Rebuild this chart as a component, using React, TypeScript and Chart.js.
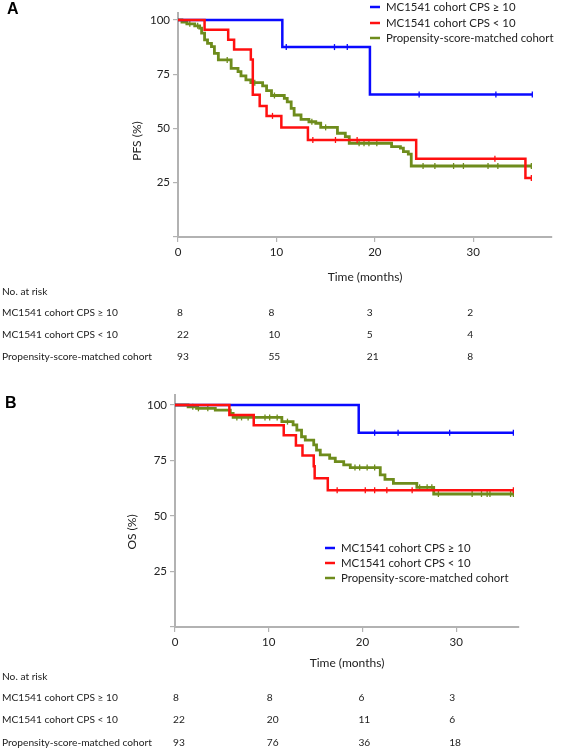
import React, { useEffect, useRef } from "react";
import { Chart, registerables } from "chart.js";

Chart.register(...registerables);

// ---------- shared labels ----------
const GROUP_LABELS = [
  "MC1541 cohort CPS \u2265 10",
  "MC1541 cohort CPS < 10",
  "Propensity-score-matched cohort",
];
const X_TICKS = [0, 10, 20, 30];
const Y_TICKS = [0, 25, 50, 75, 100];
const RISK_TIMES = [0, 10, 20, 30];
const X_TITLE = "Time (months)";
const RISK_TITLE = "No. at risk";

// ---------- Panel A : PFS ----------
const PFS_HIGH_T = [0, 10.6, 19.5, 36.0];
const PFS_HIGH_S = [100, 87.5, 65.6, 65.6];
const PFS_HIGH_CENS = [11.0, 15.9, 17.2, 24.5, 32.3, 36.0];

const PFS_LOW_T = [0, 2.7, 5.1, 5.7, 7.4, 7.6, 8.3, 9.0, 10.5, 13.2, 24.2, 35.3, 35.9];
const PFS_LOW_S = [100, 95.5, 90.9, 86.4, 81.8, 65.5, 60.3, 55.8, 50.5, 44.7, 36.0, 27.2, 27.2];
const PFS_LOW_CENS = [9.6, 13.7, 16.0, 18.2, 32.2, 35.9];

const PFS_PSM_T = [0, 0.4, 0.9, 1.7, 2.2, 2.4, 2.7, 3.0, 3.4, 3.7, 4.1, 5.4, 6.1, 6.4, 6.9, 7.4, 8.6, 9.0, 9.5, 10.8, 11.1, 11.5, 11.8, 12.5, 13.3, 14.0, 14.5, 16.2, 17.0, 17.4, 21.7, 22.6, 22.9, 23.4, 23.7, 35.9];
const PFS_PSM_S = [100, 99.0, 98.2, 97.3, 96.2, 93.9, 90.8, 89.2, 87.7, 84.6, 81.6, 77.7, 76.2, 74.2, 72.4, 71.1, 69.6, 67.4, 65.2, 63.9, 62.3, 59.3, 56.2, 54.2, 53.1, 52.4, 50.5, 47.8, 46.2, 43.2, 41.6, 40.9, 39.3, 38.2, 32.7, 32.7];
const PFS_PSM_CENS = [1.2, 2.0, 5.0, 7.8, 9.8, 13.6, 15.0, 18.4, 18.9, 19.4, 20.2, 24.9, 26.1, 28.0, 29.0, 31.5, 32.5, 35.9];

const PFS_RISK_HIGH = [8, 8, 3, 2];
const PFS_RISK_LOW = [22, 10, 5, 4];
const PFS_RISK_PSM = [93, 55, 21, 8];

// ---------- Panel B : OS ----------
const OS_HIGH_T = [0, 19.6, 36.1];
const OS_HIGH_S = [100, 87.5, 87.5];
const OS_HIGH_CENS = [21.3, 23.8, 29.3, 36.1];

const OS_LOW_T = [0, 5.8, 8.4, 11.6, 12.9, 13.6, 14.8, 14.9, 16.3, 36.1];
const OS_LOW_S = [100, 95.5, 90.9, 86.4, 81.8, 77.3, 72.4, 67.0, 61.6, 61.6];
const OS_LOW_CENS = [17.3, 20.3, 21.3, 22.6, 25.3, 36.1];

const OS_PSM_T = [0, 1.4, 2.3, 4.3, 5.9, 6.2, 11.4, 12.6, 13.0, 13.5, 13.9, 14.8, 15.1, 15.5, 16.5, 17.1, 18.0, 18.7, 21.9, 22.4, 23.3, 25.8, 27.6, 36.1];
const OS_PSM_S = [100, 99.2, 98.5, 97.7, 96.2, 94.4, 92.5, 91.0, 88.7, 85.7, 84.2, 82.0, 79.7, 77.5, 76.0, 74.5, 73.0, 71.8, 68.5, 66.5, 64.7, 62.9, 59.9, 59.9];
const OS_PSM_CENS = [1.9, 2.5, 3.5, 6.6, 7.1, 7.8, 9.6, 10.1, 10.9, 12.0, 19.2, 19.7, 20.5, 21.3, 26.1, 26.9, 27.4, 28.1, 31.7, 32.7, 33.3, 33.6, 35.8, 36.1];

const OS_RISK_HIGH = [8, 8, 6, 3];
const OS_RISK_LOW = [22, 20, 11, 6];
const OS_RISK_PSM = [93, 76, 36, 18];

// ---------- styling ----------
const COLORS = ["#0a0aff", "#ff1010", "#6e8c1c"];
const DRAW_ORDER = [2, 1, 3]; // red on top, then blue, then green
const LINE_WIDTHS = [2.5, 2.5, 2.8];
const AXIS_COLOR = "#b2b2b2";
const TEXT_COLOR = "#222222";
const FONT = "Lato";

type PanelCfg = {
  letter: string;
  yTitle: string;
  curvesT: number[][];
  curvesS: number[][];
  cens: number[][];
  risk: number[][];
  xMax: number;
  yMax: number;
  height: number;
  padLeft: number;
  padRight: number;
  padTop: number;
  xAxisH: number;
  letterPos: [number, number];
  yTitlePos: [number, number];
  xTitleY: number;
  legendX: number;
  legendY: number[];
  riskTitleY: number;
  riskRowsY: number[];
  riskOffsets: number[];
};

const PANELS: PanelCfg[] = [
  {
    letter: "A",
    yTitle: "PFS (%)",
    curvesT: [PFS_HIGH_T, PFS_LOW_T, PFS_PSM_T],
    curvesS: [PFS_HIGH_S, PFS_LOW_S, PFS_PSM_S],
    cens: [PFS_HIGH_CENS, PFS_LOW_CENS, PFS_PSM_CENS],
    risk: [PFS_RISK_HIGH, PFS_RISK_LOW, PFS_RISK_PSM],
    xMax: 38,
    yMax: 103.2,
    height: 375,
    padLeft: 128,
    padRight: 9,
    padTop: 13,
    xAxisH: 138,
    letterPos: [7, 10],
    yTitlePos: [137, 141],
    xTitleY: 277,
    legendX: 370,
    legendY: [7, 23, 38],
    riskTitleY: 292,
    riskRowsY: [313, 335, 357],
    riskOffsets: [-1, -8, -8, -6],
  },
  {
    letter: "B",
    yTitle: "OS (%)",
    curvesT: [OS_HIGH_T, OS_LOW_T, OS_PSM_T],
    curvesS: [OS_HIGH_S, OS_LOW_S, OS_PSM_S],
    cens: [OS_HIGH_CENS, OS_LOW_CENS, OS_PSM_CENS],
    risk: [OS_RISK_HIGH, OS_RISK_LOW, OS_RISK_PSM],
    xMax: 36.7,
    yMax: 104.5,
    height: 375,
    padLeft: 125,
    padRight: 42,
    padTop: 20,
    xAxisH: 123,
    letterPos: [5, 29],
    yTitlePos: [132, 157],
    xTitleY: 288,
    legendX: 325,
    legendY: [173, 188, 203],
    riskTitleY: 302,
    riskRowsY: [323, 345, 368],
    riskOffsets: [-2, -2, -4, -7],
  },
];

function stepValue(ts: number[], ss: number[], t: number): number {
  let v = ss[0];
  for (let i = 0; i < ts.length; i++) {
    if (ts[i] <= t) v = ss[i];
  }
  return v;
}

function Panel({ cfg }: { cfg: PanelCfg }) {
  const ref = useRef<HTMLCanvasElement | null>(null);

  useEffect(() => {
    if (!ref.current) return;
    const datasets: any[] = [];
    cfg.curvesT.forEach((ts, i) => {
      datasets.push({
        type: "line",
        label: GROUP_LABELS[i],
        data: ts.map((t, k) => ({ x: t, y: cfg.curvesS[i][k] })),
        borderColor: COLORS[i],
        borderWidth: LINE_WIDTHS[i],
        stepped: "before",
        pointRadius: 0,
        fill: false,
        order: DRAW_ORDER[i],
      });
    });
    cfg.cens.forEach((cs, i) => {
      datasets.push({
        type: "scatter",
        label: GROUP_LABELS[i] + " censored",
        data: cs.map((t) => ({ x: t, y: stepValue(cfg.curvesT[i], cfg.curvesS[i], t) })),
        borderColor: COLORS[i],
        backgroundColor: COLORS[i],
        borderWidth: 1.3,
        pointStyle: "line",
        rotation: 90,
        pointRadius: 3,
        showLine: false,
        order: DRAW_ORDER[i],
      });
    });

    const overlay = {
      id: "kmOverlay",
      afterDraw(chart: any) {
        const ctx = chart.ctx as CanvasRenderingContext2D;
        const xs = chart.scales.x;
        const area = chart.chartArea;
        ctx.save();
        ctx.fillStyle = TEXT_COLOR;
        ctx.textBaseline = "middle";

        // panel letter
        ctx.font = 'bold 16px "Liberation Sans"';
        ctx.textAlign = "left";
        ctx.fillStyle = "#000";
        ctx.fillText(cfg.letter, cfg.letterPos[0], cfg.letterPos[1]);
        ctx.fillStyle = TEXT_COLOR;

        // y title
        ctx.save();
        ctx.font = `12px ${FONT}`;
        ctx.translate(cfg.yTitlePos[0], cfg.yTitlePos[1]);
        ctx.rotate(-Math.PI / 2);
        ctx.textAlign = "center";
        ctx.fillText(cfg.yTitle, 0, 0);
        ctx.restore();

        // x title
        ctx.font = `12px ${FONT}`;
        ctx.textAlign = "center";
        ctx.fillText(X_TITLE, (area.left + area.right) / 2, cfg.xTitleY);

        // legend
        ctx.textAlign = "left";
        ctx.font = `11.4px ${FONT}`;
        GROUP_LABELS.forEach((lab, i) => {
          const y = cfg.legendY[i];
          ctx.strokeStyle = COLORS[i];
          ctx.lineWidth = 2.5;
          ctx.beginPath();
          ctx.moveTo(cfg.legendX, y);
          ctx.lineTo(cfg.legendX + 10, y);
          ctx.stroke();
          ctx.fillText(lab, cfg.legendX + 16, y);
        });

        // risk table
        ctx.font = `10.2px ${FONT}`;
        ctx.fillText(RISK_TITLE, 2, cfg.riskTitleY);
        GROUP_LABELS.forEach((lab, i) => {
          const y = cfg.riskRowsY[i];
          ctx.fillText(lab, 2, y);
          RISK_TIMES.forEach((t, j) => {
            const px = xs.getPixelForValue(t) + cfg.riskOffsets[j];
            ctx.fillText(String(cfg.risk[i][j]), px, y);
          });
        });
        ctx.restore();
      },
    };

    const chart = new Chart(ref.current, {
      type: "line",
      data: { datasets },
      options: {
        animation: false,
        responsive: false,
        maintainAspectRatio: false,
        layout: {
          padding: { left: cfg.padLeft, right: cfg.padRight, top: cfg.padTop, bottom: 0 },
        },
        plugins: {
          legend: { display: false },
          tooltip: { enabled: false },
          title: { display: false },
        },
        scales: {
          x: {
            type: "linear",
            min: 0,
            max: cfg.xMax,
            afterFit: (s: any) => {
              s.height = cfg.xAxisH;
            },
            afterBuildTicks: (s: any) => {
              s.ticks = X_TICKS.map((v) => ({ value: v }));
            },
            ticks: {
              font: { family: FONT, size: 11.5 },
              color: TEXT_COLOR,
              padding: 3,
              maxRotation: 0,
              autoSkip: false,
              callback: (v: any) => String(v),
            },
            grid: {
              display: true,
              drawOnChartArea: false,
              drawTicks: true,
              tickLength: 5,
              color: AXIS_COLOR,
              lineWidth: 1.2,
            },
            border: { display: true, color: AXIS_COLOR, width: 2 },
          },
          y: {
            type: "linear",
            min: 0,
            max: cfg.yMax,
            afterFit: (s: any) => {
              s.width = 50;
            },
            afterBuildTicks: (s: any) => {
              s.ticks = Y_TICKS.map((v) => ({ value: v }));
            },
            ticks: {
              font: { family: FONT, size: 11.5 },
              color: TEXT_COLOR,
              padding: 3,
              autoSkip: false,
              callback: (v: any) => (v === 0 ? "" : String(v)),
            },
            grid: {
              display: true,
              drawOnChartArea: false,
              drawTicks: true,
              tickLength: 5,
              color: AXIS_COLOR,
              lineWidth: 1.2,
            },
            border: { display: true, color: AXIS_COLOR, width: 2 },
          },
        },
      },
      plugins: [overlay],
    } as any);
    return () => chart.destroy();
  }, [cfg]);

  return (
    <canvas
      ref={ref}
      width={561}
      height={cfg.height}
      style={{ display: "block", width: 561, height: cfg.height }}
    />
  );
}

export default function App() {
  return (
    <div
      style={{
        position: "absolute",
        left: 0,
        top: 0,
        width: 561,
        height: 750,
        background: "#fff",
      }}
    >
      {PANELS.map((p) => (
        <Panel key={p.letter} cfg={p} />
      ))}
    </div>
  );
}
